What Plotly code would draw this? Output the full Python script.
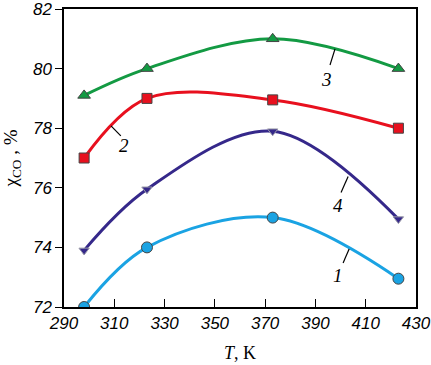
import plotly.graph_objects as go

temps = [298, 323, 373, 423]
s1 = [72.0, 74.0, 75.0, 72.95]
s2 = [77.0, 79.0, 78.95, 78.0]
s3 = [79.1, 80.0, 81.0, 80.0]
s4 = [73.9, 75.95, 77.9, 74.95]
x_ticks = [290, 310, 330, 350, 370, 390, 410, 430]
y_ticks = [72, 74, 76, 78, 80, 82]

series = [
    (s1, "#1aa3e3", "circle", 11, "1"),
    (s2, "#e8101e", "square", 10, "2"),
    (s3, "#139a43", "triangle-up", 11, "3"),
    (s4, "#35288a", "triangle-down", 9, "4"),
]

fig = go.Figure()
for vals, col, sym, size, name in series:
    fig.add_trace(go.Scatter(
        x=temps, y=vals, mode="lines+markers", name=name,
        line=dict(color=col, width=3, shape="spline", smoothing=1.0),
        marker=dict(symbol=sym, size=size, color=col,
                    line=dict(color="#444444" if name != "4" else "#9a9aa8", width=1)),
        showlegend=False,
    ))

# curve labels with leader lines
labels = [
    ("2", (308.7, 78.08), (312.6, 77.74), (313.9, 77.42)),
    ("3", (397.8, 80.66), (395.8, 80.12), (394.6, 79.62)),
    ("4", (403.0, 76.38), (400.2, 75.84), (399.0, 75.42)),
    ("1", (403.4, 73.95), (401.0, 73.48), (399.0, 73.06)),
]
for txt, p0, p1, pt in labels:
    fig.add_shape(type="line", x0=p0[0], y0=p0[1], x1=p1[0], y1=p1[1],
                  line=dict(color="black", width=1.2))
    fig.add_annotation(x=pt[0], y=pt[1], text=txt, showarrow=False,
                       font=dict(family="Liberation Serif", size=19, color="black", style="italic"),
                       xanchor="center", yanchor="middle")

fig.update_layout(
    width=431, height=365,
    margin=dict(l=64, r=15, t=9, b=58),
    plot_bgcolor="white", paper_bgcolor="white",
    font=dict(family="Liberation Sans", color="black"),
)
fig.update_xaxes(
    range=[290, 430], tickvals=x_ticks,
    ticktext=[f"<i>{v}</i>" for v in x_ticks],
    ticks="inside", ticklen=8, tickwidth=1, tickcolor="black",
    showline=True, linecolor="black", linewidth=1.5, mirror=True,
    showgrid=False, zeroline=False, automargin=False,
    ticklabeloverflow="allow",
    tickfont=dict(family="Liberation Sans", size=17),
    title=dict(text="<i>T</i>, K", font=dict(family="Liberation Serif", size=18), standoff=14),
)
fig.update_yaxes(
    range=[72, 82], tickvals=y_ticks,
    ticktext=[f"<i>{v}</i>" for v in y_ticks],
    ticks="outside", ticklen=7, tickwidth=1, tickcolor="black",
    showline=True, linecolor="black", linewidth=1.5, mirror=True,
    showgrid=False, zeroline=False, automargin=False,
    ticklabeloverflow="allow",
    tickfont=dict(family="Liberation Sans", size=17),
    title=dict(text="χ<sub>CO</sub> , %", font=dict(family="Liberation Serif", size=19), standoff=10),
)
fig.write_html("out.html", config={"displayModeBar": False},
               post_script="document.body.style.margin='0';document.body.style.padding='0';")
